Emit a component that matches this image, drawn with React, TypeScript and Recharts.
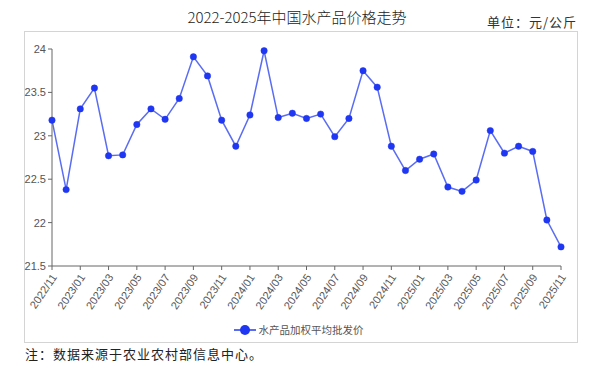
import React from "react";
import { LineChart, Line, XAxis, YAxis, Legend } from "recharts";

const months: string[] = [
  "2022/11", "2022/12",
  "2023/01", "2023/02", "2023/03", "2023/04", "2023/05", "2023/06",
  "2023/07", "2023/08", "2023/09", "2023/10", "2023/11", "2023/12",
  "2024/01", "2024/02", "2024/03", "2024/04", "2024/05", "2024/06",
  "2024/07", "2024/08", "2024/09", "2024/10", "2024/11", "2024/12",
  "2025/01", "2025/02", "2025/03", "2025/04", "2025/05", "2025/06",
  "2025/07", "2025/08", "2025/09", "2025/10", "2025/11",
];

const prices: number[] = [
  23.18, 22.38,
  23.31, 23.55, 22.77, 22.78, 23.13, 23.31,
  23.19, 23.43, 23.91, 23.69, 23.18, 22.88,
  23.24, 23.98, 23.21, 23.26, 23.2, 23.25,
  22.99, 23.2, 23.75, 23.56, 22.88, 22.6,
  22.73, 22.79, 22.41, 22.36, 22.49, 23.06,
  22.8, 22.88, 22.82, 22.03, 21.72,
];

const yTicks: number[] = [21.5, 22, 22.5, 23, 23.5, 24];

const seriesName = "水产品加权平均批发价";
const title = "2022-2025年中国水产品价格走势";
const unitText = "单位：元/公斤";
const noteText = "注：数据来源于农业农村部信息中心。";

const data = months.map((m, i) => ({ month: m, price: prices[i] }));

const LINE_COLOR = "#5a6df2";
const DOT_COLOR = "#1f36f2";
const AXIS_COLOR = "#666";
const FONT = "'Liberation Sans', 'Noto Sans CJK SC', sans-serif";

const XTick = (props: any) => {
  const { x, y, payload } = props;
  return (
    <g transform={`translate(${x + 2},${y + 3})`}>
      <text
        x={0}
        y={0}
        dy={4}
        textAnchor="end"
        transform="rotate(-56)"
        fontSize={11}
        fill="#555"
        fontFamily={FONT}
      >
        {payload.value}
      </text>
    </g>
  );
};

const LegendContent = () => (
  <div
    style={{
      display: "flex",
      justifyContent: "center",
      alignItems: "center",
      fontFamily: "'Noto Sans CJK SC', sans-serif",
      fontSize: 10.5,
      color: "#555",
      paddingLeft: 36,
    }}
  >
    <svg width={22} height={12} style={{ marginRight: 3 }}>
      <line x1={0} y1={6} x2={22} y2={6} stroke={LINE_COLOR} strokeWidth={2} />
      <circle cx={11} cy={6} r={5} fill={DOT_COLOR} />
    </svg>
    <span>{seriesName}</span>
  </div>
);

export default function App() {
  return (
    <div style={{ position: "relative", width: 600, height: 369, background: "#fff", fontFamily: FONT }}>
      <style>{`body{margin:0;}`}</style>
      <div
        style={{
          position: "absolute",
          left: 24,
          top: 31,
          width: 552,
          height: 310,
          border: "1px solid #d4d4d4",
        }}
      />
      <div
        style={{
          position: "absolute",
          left: 0,
          top: 6,
          width: 594,
          textAlign: "center",
          fontSize: 15,
          color: "#222",
          fontFamily: "'Noto Sans CJK SC', sans-serif",
          fontWeight: 300,
          lineHeight: "22px",
        }}
      >
        {title}
      </div>
      <div
        style={{
          position: "absolute",
          left: 487,
          top: 12,
          fontSize: 13,
          letterSpacing: 1,
          color: "#333",
          fontFamily: "'Noto Sans CJK SC', sans-serif",
          lineHeight: "20px",
        }}
      >
        {unitText}
      </div>
      <div style={{ position: "absolute", left: 0, top: 0 }}>
        <LineChart
          width={600}
          height={369}
          data={data}
          margin={{ top: 49, right: 39, left: 0, bottom: 27 }}
        >
          <XAxis
            dataKey="month"
            interval={1}
            tick={<XTick />}
            tickLine={{ stroke: AXIS_COLOR }}
            axisLine={{ stroke: AXIS_COLOR }}
            tickSize={4}
            height={56}
          />
          <YAxis
            domain={[21.5, 24]}
            ticks={yTicks}
            width={52}
            tickSize={4}
            tick={{ fontSize: 11, fill: "#555", fontFamily: FONT }}
            tickLine={{ stroke: AXIS_COLOR }}
            axisLine={{ stroke: AXIS_COLOR }}
          />
          <Legend verticalAlign="bottom" height={20} content={<LegendContent />} />
          <Line
            type="linear"
            dataKey="price"
            name={seriesName}
            stroke={LINE_COLOR}
            strokeWidth={1.5}
            dot={{ r: 3.2, fill: DOT_COLOR, stroke: DOT_COLOR, strokeWidth: 0.5 }}
            isAnimationActive={false}
          />
        </LineChart>
      </div>
      <div
        style={{
          position: "absolute",
          left: 25,
          top: 344,
          fontSize: 13,
          letterSpacing: 1,
          color: "#222",
          fontFamily: "'Noto Sans CJK SC', serif",
          lineHeight: "20px",
        }}
      >
        {noteText}
      </div>
    </div>
  );
}
